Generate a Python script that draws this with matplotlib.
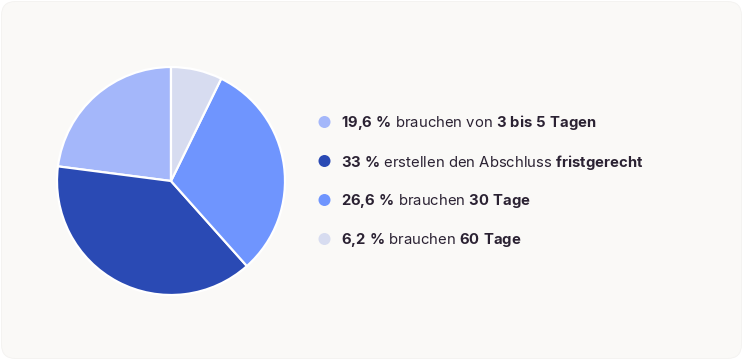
import matplotlib
matplotlib.use("Agg")
import matplotlib.pyplot as plt
from matplotlib.patches import FancyBboxPatch, Circle

plt.rcParams["mathtext.fontset"] = "custom"
plt.rcParams["mathtext.rm"] = "Inter"
plt.rcParams["mathtext.bf"] = "Inter:bold"
plt.rcParams["mathtext.it"] = "Inter:italic"

values = [19.6, 33, 26.6, 6.2]
colors = ["#A4B7FA", "#2A4AB4", "#6F95FE", "#D7DCF0"]
# each legend row: (bold value, regular text, bold ending)
row_pct = ["19,6 %", "33 %", "26,6 %", "6,2 %"]
row_mid = ["brauchen von", "erstellen den Abschluss", "brauchen", "brauchen"]
row_end = ["3 bis 5 Tagen", "fristgerecht", "30 Tage", "60 Tage"]

W, H = 743, 360
fig = plt.figure(figsize=(W / 100, H / 100), dpi=100)
fig.patch.set_facecolor("white")

bg = fig.add_axes([0, 0, 1, 1])
bg.set_xlim(0, W)
bg.set_ylim(H, 0)
bg.axis("off")
bg.add_patch(FancyBboxPatch((1.5, 1.5), W - 3, H - 3, boxstyle="round,pad=0,rounding_size=14",
                            facecolor="#FAF9F7", edgecolor="#F3F2F0", linewidth=0.6))

cx, cy, r = 171, 181, 114
pax = fig.add_axes([(cx - r) / W, (H - cy - r) / H, 2 * r / W, 2 * r / H])
pax.pie(values, colors=colors, startangle=90, counterclock=True, radius=1,
        wedgeprops=dict(edgecolor="white", linewidth=1.6))
pax.set_xlim(-1, 1)
pax.set_ylim(-1, 1)
pax.set_aspect("equal")
pax.axis("off")


def bold(s):
    s = s.replace(",", "{,}").replace("%", r"\%").replace(" ", r"\ ")
    return r"$\mathbf{" + s + "}$"


FS = 10.7
row_y = [122, 161, 200, 239]
for i in range(len(values)):
    y = row_y[i]
    bg.add_patch(Circle((324.5, y), 6, facecolor=colors[i], edgecolor="none"))
    label = bold(row_pct[i]) + " " + row_mid[i] + " " + bold(row_end[i])
    bg.text(341, y - 1.5, label, fontsize=FS, family="Inter", color="#2B2233",
            va="center_baseline", ha="left")

fig.savefig("out.png", dpi=100, facecolor="white")
